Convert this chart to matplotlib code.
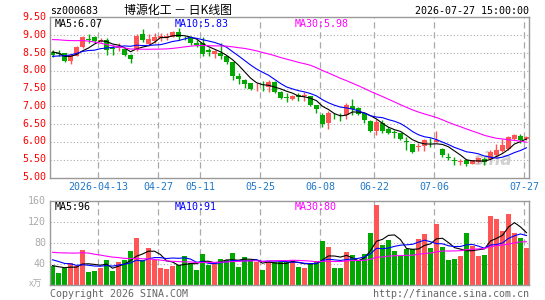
import matplotlib
matplotlib.use("Agg")
import matplotlib.pyplot as plt
import pandas as pd

# daily bars shown in the window (80 sessions, 2026-03-31 .. 2026-07-27)
opens = [8.52, 8.50, 8.48, 8.28, 8.42, 8.66, 8.88, 8.94, 8.84, 8.86,
         8.62, 8.62, 8.60, 8.44, 8.58, 9.02, 8.75, 8.82, 8.91, 8.90,
         8.95, 9.09, 8.92, 8.93, 8.77, 8.78, 8.58, 8.47, 8.50, 8.40,
         8.23, 7.85, 7.73, 7.65, 7.56, 7.58, 7.54, 7.68, 7.40, 7.27,
         7.21, 7.31, 7.29, 7.29, 7.03, 6.75, 6.53, 6.74, 6.74, 6.75,
         7.02, 6.97, 6.82, 6.60, 6.32, 6.53, 6.36, 6.29, 6.25, 6.03,
         5.95, 5.86, 5.90, 6.07, 6.02, 5.81, 5.59, 5.50, 5.44, 5.51,
         5.40, 5.44, 5.53, 5.53, 5.63, 5.76, 5.82, 6.09, 6.17, 6.08]
highs = [8.58, 8.58, 8.50, 8.46, 8.68, 8.97, 9.03, 8.98, 8.92, 8.90,
         8.72, 8.76, 8.63, 8.46, 9.02, 9.17, 9.02, 9.05, 9.04, 9.04,
         9.12, 9.20, 8.98, 8.96, 8.85, 8.95, 8.62, 8.58, 8.77, 8.42,
         8.25, 7.93, 7.78, 7.66, 7.65, 7.70, 7.75, 7.70, 7.42, 7.38,
         7.33, 7.38, 7.40, 7.30, 7.05, 6.82, 6.87, 6.82, 6.82, 7.10,
         7.22, 6.98, 6.83, 6.61, 6.66, 6.62, 6.43, 6.34, 6.26, 6.15,
         5.96, 5.99, 6.09, 6.12, 6.30, 5.84, 5.69, 5.58, 5.53, 5.53,
         5.51, 5.58, 5.58, 5.79, 5.95, 6.09, 6.16, 6.23, 6.22, 6.18]
lows = [8.38, 8.40, 8.24, 8.19, 8.40, 8.63, 8.78, 8.78, 8.80, 8.45,
        8.45, 8.54, 8.40, 8.21, 8.54, 8.80, 8.70, 8.78, 8.84, 8.86,
        8.93, 8.86, 8.85, 8.72, 8.66, 8.40, 8.40, 8.35, 8.32, 8.20,
        7.74, 7.62, 7.52, 7.47, 7.43, 7.44, 7.40, 7.37, 7.20, 7.13,
        7.19, 7.15, 7.15, 7.01, 6.82, 6.43, 6.36, 6.64, 6.60, 6.66,
        6.76, 6.76, 6.53, 6.29, 6.20, 6.25, 6.22, 6.11, 6.05, 5.79,
        5.69, 5.76, 5.76, 5.88, 6.00, 5.60, 5.49, 5.35, 5.37, 5.33,
        5.38, 5.41, 5.37, 5.49, 5.59, 5.72, 5.79, 6.06, 5.99, 6.06]
closes = [8.44, 8.46, 8.27, 8.43, 8.66, 8.95, 8.86, 8.82, 8.87, 8.58,
          8.60, 8.70, 8.45, 8.32, 8.97, 8.85, 8.89, 8.94, 8.97, 8.98,
          9.09, 8.95, 8.90, 8.77, 8.71, 8.46, 8.52, 8.54, 8.40, 8.23,
          7.84, 7.76, 7.64, 7.50, 7.58, 7.56, 7.68, 7.40, 7.24, 7.25,
          7.29, 7.27, 7.30, 7.03, 6.92, 6.50, 6.82, 6.72, 6.72, 7.03,
          6.94, 6.80, 6.62, 6.32, 6.57, 6.32, 6.27, 6.27, 6.08, 6.01,
          5.72, 5.90, 6.06, 6.05, 6.05, 5.63, 5.57, 5.48, 5.48, 5.38,
          5.49, 5.56, 5.45, 5.72, 5.78, 5.91, 6.14, 6.20, 6.06, 6.14]
volumes = [37, 23, 33, 41, 36, 67, 25, 27, 33, 48,
           27, 44, 48, 65, 90, 48, 71, 48, 33, 30,
           37, 39, 56, 42, 29, 60, 39, 42, 50, 48,
           61, 35, 53, 48, 43, 29, 46, 44, 44, 43,
           48, 35, 33, 42, 46, 83, 73, 32, 32, 62,
           58, 47, 60, 100, 152, 76, 85, 64, 55, 68,
           68, 88, 98, 70, 116, 73, 47, 50, 56, 100,
           74, 56, 58, 131, 125, 103, 135, 100, 90, 70]

# the 29 sessions before the window, only used to seed the moving averages
pre_closes = [8.62, 8.70, 8.66, 8.75, 8.80, 9.35, 9.62, 9.80, 9.72, 9.65,
              9.58, 9.40, 9.20, 9.05, 8.98, 8.90, 8.85, 8.92, 8.80, 8.70,
              8.35, 8.22, 8.18, 8.25, 8.40, 8.60, 8.72, 8.45, 8.39]
pre_volumes = [48, 42, 50, 38, 46, 44, 92, 85, 110, 78,
               72, 95, 68, 84, 76, 70, 88, 66, 74, 62,
               55, 70, 48, 66, 56, 34, 42, 36, 36]

tick_idx = [8, 18, 25, 35, 45, 54, 64, 79]
tick_labels = ["2026-04-13", "04-27", "05-11", "05-25", "06-08", "06-22", "07-06", "07-27"]
price_ticks = [5.0, 5.5, 6.0, 6.5, 7.0, 7.5, 8.0, 8.5, 9.0, 9.5]
vol_ticks = [40, 80, 120, 160]

W, H = 545, 300
MONO = "DejaVu Sans Mono"
CJK = ["Noto Sans CJK SC", "DejaVu Sans"]
RED = "#ff5555"
GREEN = "#00a800"
GRID = "#aaaaaa"
MA_COLORS = {5: "#000000", 10: "#0000ff", 30: "#ff00ff"}

n = len(closes)
xs = list(range(n))
c_all = pd.Series(pre_closes + closes)
v_all = pd.Series(pre_volumes + volumes)
npre = len(pre_closes)


def px(x, y):
    return x / W, 1 - y / H


def setup(ax, ylim, hticks):
    ax.set_xlim(-0.42, 79.42)
    ax.set_ylim(*ylim)
    for s in ax.spines.values():
        s.set_color("#999999")
        s.set_linewidth(1.0)
    ax.set_xticks([])
    ax.set_yticks([])
    for t in hticks:
        ax.axhline(t, color=GRID, lw=0.8, ls=(0, (1, 2)), zorder=0)
    for i in tick_idx:
        ax.axvline(i - 0.4, color=GRID, lw=0.9, ls=(0, (5, 3)), zorder=0)


fig = plt.figure(figsize=(W / 100, H / 100), dpi=100)
fig.patch.set_facecolor("white")

# ---- price panel
ax = fig.add_axes([50 / W, 1 - 178 / H, 479 / W, 161 / H])
setup(ax, (5.0, 9.5), price_ticks[1:-1])

cols = [RED if c >= o else GREEN for o, c in zip(opens, closes)]
ax.vlines(xs, lows, highs, colors=cols, lw=1.0, zorder=2)
bottoms = [min(o, c) for o, c in zip(opens, closes)]
heights = [max(abs(c - o), 0.025) for o, c in zip(opens, closes)]
ax.bar(xs, heights, bottom=bottoms, width=0.82, color=cols, lw=0, zorder=2)

for w, col in MA_COLORS.items():
    ma = c_all.rolling(w).mean().iloc[npre:].values
    ax.plot(xs, ma, color=col, lw=0.8, zorder=3)

ax.text(0.965, 0.11, "sina", transform=ax.transAxes, ha="right", va="center",
        fontsize=12, fontweight="bold", style="italic", color="#d0d0d0", zorder=1)

for t in price_ticks:
    y = 17 + (9.5 - t) * 160 / 4.5
    fig.text(*px(46, y), f"{t:.2f}", ha="right", va="center",
             family=MONO, fontsize=7.2, color="#ff0000")

for i, lab in zip(tick_idx, tick_labels):
    x = 52.5 + 6 * i - 2.4
    fig.text(*px(x, 186.5), lab, ha="center", va="center",
             family=MONO, fontsize=7.2, color="#1f78c8")

fig.text(*px(50, 11), "sz000683", ha="left", va="center", family=MONO, fontsize=7.2)
fig.text(*px(178, 10.5), "博源化工 － 日K线图", ha="center", va="center",
         family=CJK, fontsize=8.6)
fig.text(*px(529, 11), "2026-07-27 15:00:00", ha="right", va="center",
         family=MONO, fontsize=7.2)

fig.text(*px(55, 24), "MA5:6.07", ha="left", va="center", family=MONO,
         fontsize=7.2, color=MA_COLORS[5])
fig.text(*px(175, 24), "MA10:5.83", ha="left", va="center", family=MONO,
         fontsize=7.2, color=MA_COLORS[10])
fig.text(*px(295, 24), "MA30:5.98", ha="left", va="center", family=MONO,
         fontsize=7.2, color=MA_COLORS[30])

# ---- volume panel
axv = fig.add_axes([50 / W, 15 / H, 479 / W, 84 / H])
setup(axv, (0, 160), vol_ticks[:-1])
axv.bar(xs, volumes, width=0.82, color=cols, lw=0, zorder=2)
for w, col in MA_COLORS.items():
    ma = v_all.rolling(w).mean().iloc[npre:].values
    axv.plot(xs, ma, color=col, lw=0.8, zorder=3)

for t in vol_ticks:
    y = 285 - t * 84 / 160
    fig.text(*px(46, y), str(t), ha="right", va="center",
             family=MONO, fontsize=7.2, color="#aaaaaa")
fig.text(*px(36, 284), "x万", ha="center", va="center", family=CJK,
         fontsize=6.5, color="#aaaaaa")

fig.text(*px(55, 207), "MA5:96", ha="left", va="center", family=MONO,
         fontsize=7.2, color=MA_COLORS[5])
fig.text(*px(175, 207), "MA10:91", ha="left", va="center", family=MONO,
         fontsize=7.2, color=MA_COLORS[10])
fig.text(*px(295, 207), "MA30:80", ha="left", va="center", family=MONO,
         fontsize=7.2, color=MA_COLORS[30])

fig.text(*px(50, 294), "Copyright 2026 SINA.COM", ha="left", va="center",
         family=MONO, fontsize=7.2, color="#666666")
fig.text(*px(529, 294), "http://finance.sina.com.cn", ha="right", va="center",
         family=MONO, fontsize=7.2, color="#666666")

fig.savefig("out.png", dpi=100)
